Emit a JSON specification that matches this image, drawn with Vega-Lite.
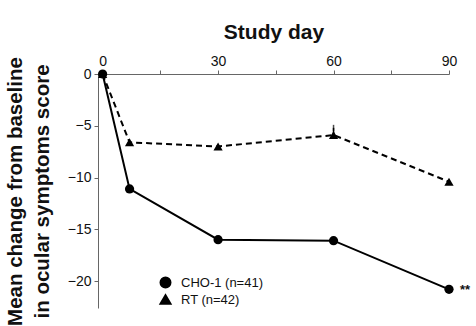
{
  "$schema": "https://vega.github.io/schema/vega-lite/v6.json",
  "width": 351,
  "height": 234,
  "autosize": "none",
  "padding": {"left": 98, "top": 74, "right": 27, "bottom": 18},
  "background": "white",
  "config": {
    "view": {"stroke": null},
    "font": "Liberation Sans",
    "axis": {"grid": false, "domainColor": "#666666", "tickColor": "#666666", "labelColor": "#111111", "titleColor": "#111111", "labelFont": "Liberation Sans", "titleFont": "Liberation Sans"}
  },
  "data": {
    "values": [
      {"day": 0, "change": 0, "group": "CHO-1 (n=41)"},
      {"day": 7, "change": -11.1, "group": "CHO-1 (n=41)"},
      {"day": 30, "change": -16.0, "group": "CHO-1 (n=41)"},
      {"day": 60, "change": -16.1, "group": "CHO-1 (n=41)"},
      {"day": 90, "change": -20.8, "group": "CHO-1 (n=41)", "sig": "**"},
      {"day": 0, "change": 0, "group": "RT (n=42)"},
      {"day": 7, "change": -6.6, "group": "RT (n=42)"},
      {"day": 30, "change": -7.0, "group": "RT (n=42)"},
      {"day": 60, "change": -5.9, "group": "RT (n=42)", "upper": -5.2},
      {"day": 90, "change": -10.4, "group": "RT (n=42)"}
    ]
  },
  "encoding": {
    "x": {
      "field": "day", "type": "quantitative",
      "scale": {"domain": [-1.2, 90], "nice": false, "zero": false},
      "axis": {
        "orient": "top", "title": "Study day", "values": [0, 15, 30, 45, 60, 75, 90],
        "labelExpr": "datum.value % 30 == 0 ? datum.label : ''",
        "labelFontSize": 14, "titleFontSize": 21, "titleFontWeight": "bold",
        "tickSize": 4, "labelPadding": 2, "titlePadding": 12, "labelFlush": false
      }
    },
    "y": {
      "field": "change", "type": "quantitative",
      "scale": {"domain": [-22.6, 0], "nice": false},
      "axis": {
        "title": ["Mean change from baseline", "in ocular symptoms score"],
        "values": [0, -5, -10, -15, -20],
        "labelFontSize": 14, "titleFontSize": 20.5, "titleFontWeight": "bold",
        "titleLineHeight": 27,
        "tickSize": 4, "labelPadding": 3, "titlePadding": 15
      }
    }
  },
  "layer": [
    {
      "mark": {"type": "rule", "color": "black", "strokeWidth": 1.5},
      "transform": [{"filter": "isValid(datum.upper)"}],
      "encoding": {"y2": {"field": "upper"}}
    },
    {
      "mark": {"type": "tick", "color": "black", "thickness": 1.5, "size": 6},
      "transform": [{"filter": "isValid(datum.upper)"}],
      "encoding": {"y": {"field": "upper", "type": "quantitative"}}
    },
    {
      "mark": {"type": "line", "color": "black", "strokeWidth": 2},
      "transform": [{"filter": "datum.group === 'CHO-1 (n=41)'"}],
      "encoding": {}
    },
    {
      "mark": {"type": "line", "color": "black", "strokeWidth": 2, "strokeDash": [6, 4]},
      "transform": [{"filter": "datum.group === 'RT (n=42)'"}],
      "encoding": {}
    },
    {
      "mark": {"type": "point", "filled": true, "color": "black", "opacity": 1, "size": 85},
      "encoding": {
        "shape": {
          "field": "group", "type": "nominal",
          "scale": {"domain": ["CHO-1 (n=41)", "RT (n=42)"], "range": ["circle", "triangle-up"]},
          "legend": {
            "title": null, "orient": "none", "legendX": 61, "legendY": 202,
            "padding": 0, "symbolSize": 100, "symbolFillColor": "black", "symbolStrokeColor": "black",
            "symbolStrokeWidth": 2, "labelFontSize": 13, "labelColor": "#111111", "labelOffset": 9, "rowPadding": -1,
            "encoding": {
              "symbols": {
                "fill": {"value": "black"},
                "stroke": {"value": "black"},
                "opacity": {"value": 1},
                "shape": {"value": {"expr": "datum.value === 'CHO-1 (n=41)' ? 'M-2.5,0L2.5,0M0.8,0A0.8,0.8,0,1,1,-0.8,0A0.8,0.8,0,1,1,0.8,0Z' : 'M-2.5,0L-1.4,0M1.4,0L2.5,0M0,-0.85L0.9,0.65L-0.9,0.65Z'"}}
              }
            }
          }
        }
      }
    },
    {
      "mark": {"type": "text", "dx": 16, "dy": 1, "fontSize": 13, "fontWeight": "bold", "color": "#111111"},
      "transform": [{"filter": "isValid(datum.sig)"}],
      "encoding": {"text": {"field": "sig"}}
    }
  ]
}
